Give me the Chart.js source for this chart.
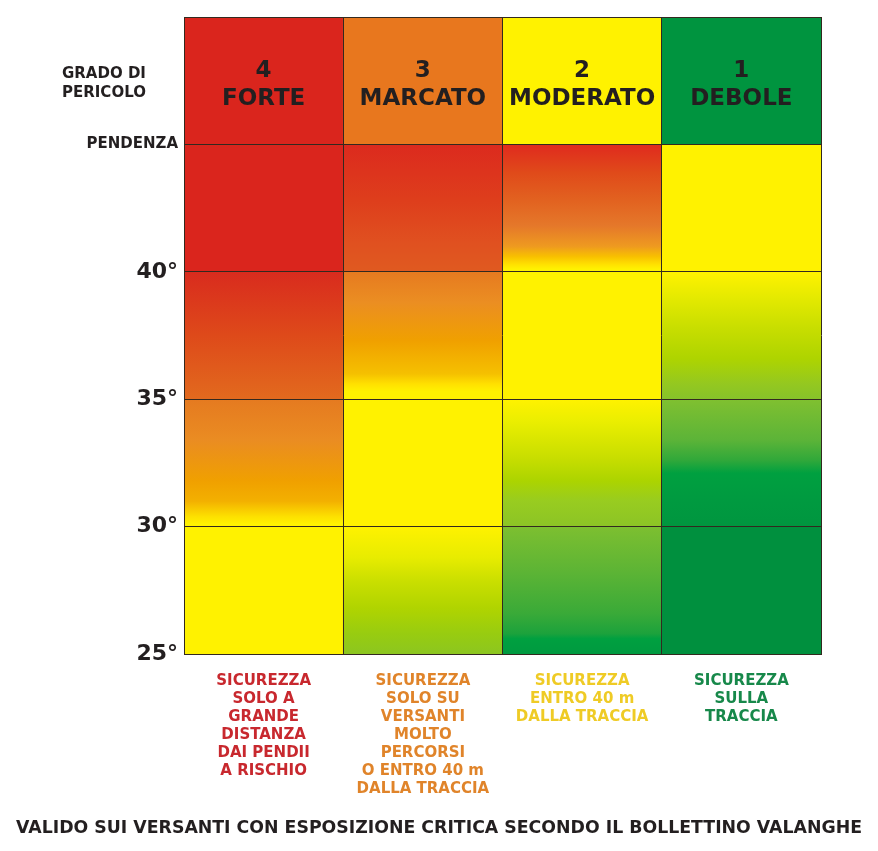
<!DOCTYPE html>
<html>
<head>
<meta charset="utf-8">
<script src="https://cdn.jsdelivr.net/npm/chart.js@4.4.1/dist/chart.umd.min.js"></script>
<style>
  body { margin: 0; background: #fff; }
  #wrap { width: 878px; height: 851px; position: relative; }
</style>
</head>
<body>
<div id="wrap"><canvas id="grado"></canvas></div>
<script>
// ---- data ----
const gradoNumeri = ['4', '3', '2', '1'];
const gradoNomi = ['FORTE', 'MARCATO', 'MODERATO', 'DEBOLE'];
const headerColors = ['#DA251D', '#E8771E', '#FFF200', '#00943F'];

// slope bands (degrees) and tick labels
const slopeBands = [[25, 30], [30, 35], [35, 40], [40, 45]];
const headerBand = [45, 50];
const pendenzaTicks = [25, 30, 35, 40];

// colour along each column, as [slope, colour] stops (bottom -> top)
const stopsForte = [
  [25, '#FFF200'], [30.1, '#FFF200'], [30.4, '#FDE000'], [31.0, '#F3B000'], [31.8, '#F0A000'],
  [33.4, '#EA8C22'], [35, '#E57A20'], [35, '#E26A1E'], [37.5, '#DE4A1A'], [40, '#D92B1E'],
  [40, '#DA251D'], [45, '#DA251D']
];
const stopsMarcato = [
  [25, '#8CC620'], [25.8, '#98CC10'], [26.8, '#B0D400'], [27.8, '#C8DE00'], [28.8, '#E8EC00'],
  [30, '#FFF200'], [35.3, '#FFF200'], [35.6, '#FFE000'], [36, '#F5C000'], [37.3, '#F0A000'],
  [38.8, '#EB8E22'], [40, '#E67A20'], [40, '#E05A20'], [41.2, '#E05020'], [42.8, '#DE3E1C'],
  [45, '#DC2A1E']
];
const stopsModerato = [
  [25, '#009A40'], [25.6, '#00A040'], [25.8, '#1CA23C'], [26.6, '#3AAA38'], [28.2, '#5CB435'],
  [30, '#7DBF30'], [30, '#8CC426'], [31, '#98CC20'], [31.8, '#ACD400'], [32.7, '#C8DE00'],
  [34.1, '#EAEE00'], [35, '#FFF200'], [40.1, '#FFF200'], [40.3, '#FFE000'], [40.6, '#F8C000'],
  [41, '#EE9A20'], [41.8, '#E5782A'], [42.8, '#E26220'], [43.9, '#E04A1A'], [45, '#E02A1E']
];
const stopsDebole = [
  [25, '#00903E'], [30, '#00903E'], [30, '#00963F'], [31, '#009A40'], [32.1, '#00A040'],
  [32.6, '#30A83A'], [33.4, '#5CB438'], [35, '#80C030'], [35, '#86C22A'], [35.6, '#94C820'],
  [36.6, '#AED400'], [37.8, '#C8DE00'], [39, '#E5EA00'], [40, '#FFF200'], [45, '#FFF200']
];
const columnStops = [stopsForte, stopsMarcato, stopsModerato, stopsDebole];

// advice under each column
const consigli = [
  ['SICUREZZA', 'SOLO A', 'GRANDE', 'DISTANZA', 'DAI PENDII', 'A RISCHIO'],
  ['SICUREZZA', 'SOLO SU', 'VERSANTI', 'MOLTO', 'PERCORSI', 'O ENTRO 40 m', 'DALLA TRACCIA'],
  ['SICUREZZA', 'ENTRO 40 m', 'DALLA TRACCIA'],
  ['SICUREZZA', 'SULLA', 'TRACCIA']
];
const consigliColors = ['#C8282E', '#E0842A', '#EFCB25', '#17884A'];

const titoloSinistra = ['GRADO DI', 'PERICOLO'];
const nota = 'VALIDO SUI VERSANTI CON ESPOSIZIONE CRITICA SECONDO IL BOLLETTINO VALANGHE';

const lineColor = '#33291f';
const textColor = '#231F20';
const FONT = '"DejaVu Sans", Verdana, sans-serif';

// vertical gradient for a column, mapped through the y scale
function columnGradient(context) {
  const chart = context.chart;
  if (!chart.chartArea) return null;
  const y = chart.scales.y;
  const lo = slopeBands[0][0];
  const hi = slopeBands[slopeBands.length - 1][1];
  const g = chart.ctx.createLinearGradient(0, y.getPixelForValue(lo), 0, y.getPixelForValue(hi));
  columnStops[context.dataIndex].forEach(function (s) {
    g.addColorStop((s[0] - lo) / (hi - lo), s[1]);
  });
  return g;
}

const datasets = slopeBands.map(function (band) {
  return {
    data: gradoNomi.map(function () { return band; }),
    backgroundColor: columnGradient,
    borderWidth: 0,
    grouped: false,
    barPercentage: 1,
    categoryPercentage: 1
  };
});
datasets.push({
  data: gradoNomi.map(function () { return headerBand; }),
  backgroundColor: headerColors,
  borderWidth: 0,
  grouped: false,
  barPercentage: 1,
  categoryPercentage: 1
});

// header texts, left title and footer note
const labelsPlugin = {
  id: 'labels',
  afterDraw(chart) {
    const ctx = chart.ctx;
    const x = chart.scales.x, y = chart.scales.y;
    const mid = (y.getPixelForValue(headerBand[0]) + y.getPixelForValue(headerBand[1])) / 2;
    ctx.save();
    ctx.fillStyle = textColor;
    ctx.textAlign = 'center';
    ctx.textBaseline = 'middle';
    ctx.font = 'bold 23px ' + FONT;
    gradoNomi.forEach(function (nome, i) {
      const cx = x.getPixelForValue(i);
      ctx.fillText(gradoNumeri[i], cx, mid - 10);
      ctx.fillText(nome, cx, mid + 18);
    });

    ctx.font = 'bold 15px ' + FONT;
    ctx.textAlign = 'left';
    ctx.fillText(titoloSinistra[0], 62, mid - 7);
    ctx.fillText(titoloSinistra[1], 62, mid + 12);

    // footer, fitted to the width used in the picture
    ctx.font = 'bold 17px ' + FONT;
    const w = ctx.measureText(nota).width;
    ctx.translate(chart.width / 2, 829);
    ctx.scale(846 / w, 1);
    ctx.textAlign = 'center';
    ctx.fillText(nota, 0, 0);
    ctx.restore();
  }
};

new Chart(document.getElementById('grado'), {
  type: 'bar',
  data: { labels: gradoNomi, datasets: datasets },
  plugins: [labelsPlugin],
  options: {
    responsive: true,
    maintainAspectRatio: false,
    animation: false,
    layout: { padding: { top: 17, right: 57, left: 0, bottom: 0 } },
    plugins: { legend: { display: false }, tooltip: { enabled: false } },
    scales: {
      x: {
        type: 'category',
        z: 1,
        grid: { display: true, offset: true, z: 1, color: lineColor, lineWidth: 1, drawTicks: false },
        border: { display: true, z: 1, color: lineColor },
        ticks: {
          autoSkip: false,
          maxRotation: 0,
          minRotation: 0,
          padding: 18,
          callback: function (v, i) { return consigli[i]; },
          color: function (c) { return consigliColors[c.index]; },
          font: { family: FONT, size: 15, weight: 'bold', lineHeight: 1.2 }
        },
        afterFit: function (scale) { scale.height = 197; }
      },
      y: {
        min: 25,
        max: 50,
        z: 1,
        grid: { z: 1, color: lineColor, lineWidth: 1, drawTicks: false },
        border: { display: true, z: 1, color: lineColor },
        ticks: {
          stepSize: 5,
          padding: 6,
          color: textColor,
          callback: function (v) {
            if (pendenzaTicks.includes(v)) return v + '°';
            if (v === headerBand[0]) return 'PENDENZA';
            return '';
          },
          font: function (c) {
            if (c.tick && c.tick.value >= headerBand[0]) return { family: FONT, size: 15, weight: 'bold' };
            return { family: FONT, size: 22, weight: 'bold' };
          }
        },
        afterFit: function (scale) { scale.width = 184; }
      }
    }
  }
});
</script>
</body>
</html>
